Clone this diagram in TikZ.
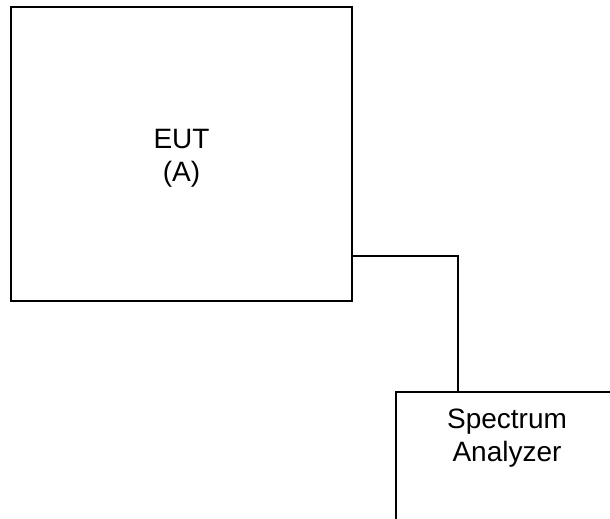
\documentclass[tikz,border=0pt]{standalone}
\usepackage{fontspec}
\setmainfont{Liberation Sans}
\usetikzlibrary{calc}
\begin{document}
\begin{tikzpicture}[x=1pt, y=-1pt, line width=1.6pt,
  box/.style={draw, rectangle, inner sep=0pt, outer sep=0pt},
  lbl/.style={align=center, inner sep=0pt, font=\fontsize{28}{33}\selectfont}]
  \useasboundingbox (0,0) rectangle (610,519);
  % equipment under test
  \node[box, minimum width=341pt, minimum height=294pt, anchor=north west] (eut) at (11,7) {};
  \node[lbl] (eutlbl) at (181.5,158) {EUT\\(A)};
  % spectrum analyzer, running off the right and bottom edges
  \node[box, minimum width=260pt, minimum height=180pt, anchor=north west] (sa) at (396,392) {};
  \node[lbl] (salbl) at (507,438) {Spectrum\\Analyzer};
  % cable from the EUT port to the analyzer
  \coordinate (port) at ($(eut.north east)+(0,249)$);
  \draw (port) -| ($(sa.north west)+(62,0)$);
\end{tikzpicture}
\end{document}
